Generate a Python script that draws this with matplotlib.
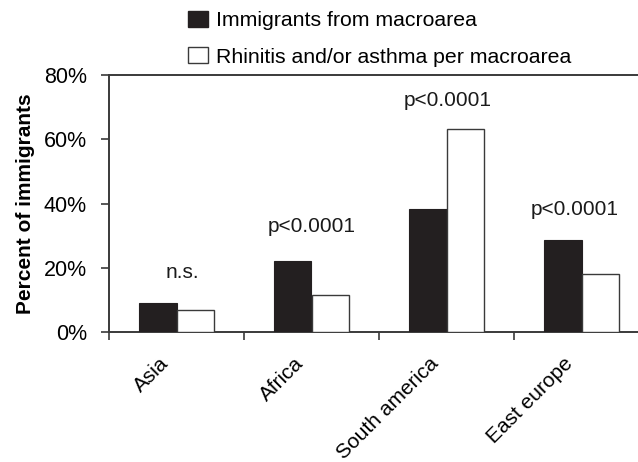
import matplotlib
matplotlib.use("Agg")
import matplotlib.pyplot as plt
from matplotlib.patches import Patch
from matplotlib.transforms import ScaledTranslation
import numpy as np

plt.rcParams['font.family'] = ['Liberation Sans', 'DejaVu Sans']

regions = ["Asia", "Africa", "South america", "East europe"]
immigrants_pct = [9.0, 22.1, 38.3, 28.6]
rhinitis_asthma_pct = [6.7, 11.5, 63.1, 18.2]
p_labels = ["n.s.", "p<0.0001", "p<0.0001", "p<0.0001"]
p_label_y = [18.4, 32.8, 72.2, 38.2]
p_label_dx = [0.04, 0.0, 0.01, -0.05]
y_ticks = [0, 20, 40, 60, 80]

dark = '#231f20'
axis_col = '#3a3a3a'

fig = plt.figure(figsize=(6.38, 4.62), dpi=100)
ax = fig.add_axes([109 / 638, 130 / 462, 529 / 638, 257 / 462])

centers = np.arange(len(regions)) + 0.5
w = 0.28
ax.bar(centers - w / 2, immigrants_pct, width=w, color=dark, edgecolor=dark,
       linewidth=0.8, label="Immigrants from macroarea", zorder=3)
ax.bar(centers + w / 2, rhinitis_asthma_pct, width=w, color='white',
       edgecolor=axis_col, linewidth=1.0,
       label="Rhinitis and/or asthma per macroarea", zorder=3)

for c, lab, y, dx in zip(centers, p_labels, p_label_y, p_label_dx):
    ax.text(c + dx, y, lab, ha='center', va='center', fontsize=15, color='#1a1a1a')

ax.set_xlim(0, 529 / 135)
ax.set_ylim(0, 80)
ax.set_yticks(y_ticks)
ax.set_yticklabels([f"{v}%" for v in y_ticks])
ax.set_xticks(np.arange(len(regions)))
ax.set_xticklabels([])
ax.set_xticks(centers, minor=True)
ax.set_xticklabels(regions, minor=True, rotation=45, ha='right', va='top',
                   rotation_mode='anchor', fontsize=15)
ax.tick_params(axis='x', which='minor', length=0, pad=16)
ax.tick_params(axis='x', which='major', length=6, width=1.2, color=axis_col, direction='out')
ax.tick_params(axis='y', length=6, width=1.2, color=axis_col, direction='out',
               labelsize=15.5, pad=10)

shift = ScaledTranslation(-18 / 100, 0, fig.dpi_scale_trans)
for lbl in ax.get_xticklabels(minor=True):
    lbl.set_transform(lbl.get_transform() + shift)

for side in ['left', 'bottom', 'top']:
    ax.spines[side].set_color(axis_col)
    ax.spines[side].set_linewidth(1.4)
ax.spines['right'].set_visible(False)

ax.set_ylabel("Percent of immigrants", fontsize=15, fontweight='bold')
ax.yaxis.set_label_coords(-0.14, 0.5)

handles = [Patch(facecolor=dark, edgecolor=dark, label="Immigrants from macroarea"),
           Patch(facecolor='white', edgecolor=axis_col, linewidth=1.0,
                 label="Rhinitis and/or asthma per macroarea")]
fig.legend(handles=handles, loc='upper left', bbox_to_anchor=(175 / 638, 1.004),
           frameon=False, fontsize=15.3, handlelength=0.95, handleheight=0.8,
           handletextpad=0.4, labelspacing=0.78, borderaxespad=0.2)

fig.savefig("out.png", dpi=100)
